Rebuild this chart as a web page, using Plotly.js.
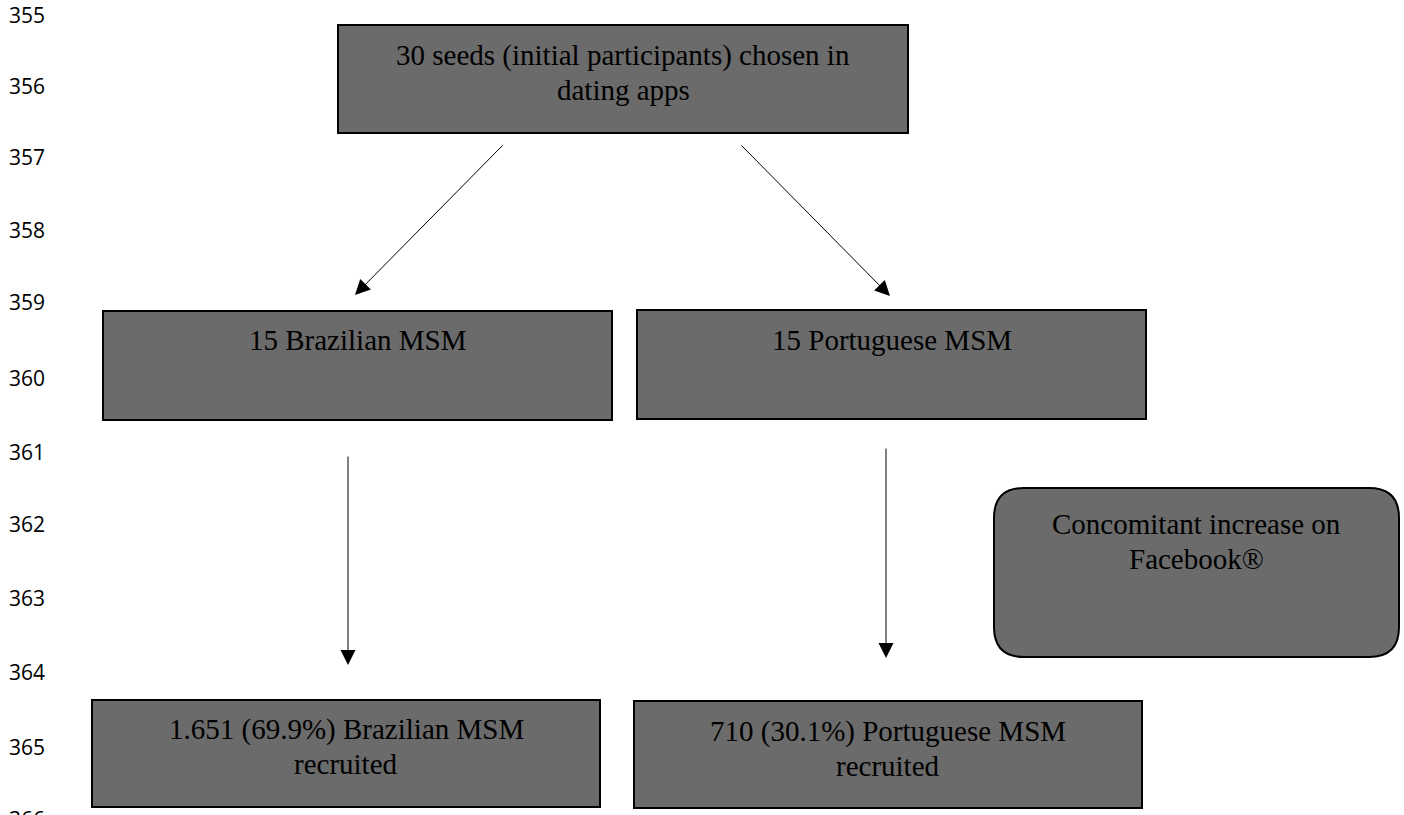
<!DOCTYPE html>
<html>
<head>
<meta charset="utf-8">
<script src="https://cdn.plot.ly/plotly-3.0.1.min.js"></script>
<style>html,body{margin:0;padding:0;background:#fff;}#chart{width:1404px;height:815px;}</style>
</head>
<body>
<div id="chart"></div>
<script>
// Line numbers shown in the left margin
const lineNumbers = ['355','356','357','358','359','360','361','362','363','364','365','366'];
const lineNumberY = [15, 86, 157, 230, 302, 378, 452, 524, 598, 672, 747, 819];

// Flowchart box texts (one entry per text line)
const boxLabels = [
  ['30 seeds (initial participants) chosen in', 'dating apps'],
  ['15 Brazilian MSM'],
  ['15 Portuguese MSM'],
  ['Concomitant increase on', 'Facebook®'],
  ['1.651 (69.9%) Brazilian MSM', 'recruited'],
  ['710 (30.1%) Portuguese MSM', 'recruited']
];

// Geometry (pixel-space layout)
const W = 1404, H = 815;
const boxes = [
  {x0:338, x1:908, y0:25, y1:133, ty:55},
  {x0:103, x1:612, y0:311, y1:420, ty:340},
  {x0:637, x1:1146, y0:310, y1:419, ty:340},
  {x0:994, x1:1399, y0:488, y1:657, ty:524, round:30},
  {x0:92, x1:600, y0:700, y1:807, ty:729},
  {x0:634, x1:1142, y0:701, y1:808, ty:731}
];
const LINE_GAP = 35;
const arrows = [
  {x0:504, y0:144, x1:355, y1:295},
  {x0:740, y0:144, x1:890, y1:296},
  {x0:348, y0:455, x1:348, y1:665},
  {x0:886, y0:447, x1:886, y1:658}
];

const FILL = '#6b6b6b';
const shapes = [];
const annotations = [];

boxes.forEach((b, i) => {
  if (b.round) {
    const r = b.round;
    const p = `M ${b.x0+r},${b.y0} L ${b.x1-r},${b.y0} Q ${b.x1},${b.y0} ${b.x1},${b.y0+r} ` +
      `L ${b.x1},${b.y1-r} Q ${b.x1},${b.y1} ${b.x1-r},${b.y1} L ${b.x0+r},${b.y1} ` +
      `Q ${b.x0},${b.y1} ${b.x0},${b.y1-r} L ${b.x0},${b.y0+r} Q ${b.x0},${b.y0} ${b.x0+r},${b.y0} Z`;
    shapes.push({type:'path', xref:'x', yref:'y', path:p, fillcolor:FILL, line:{color:'#000', width:2}, layer:'below'});
  } else {
    shapes.push({type:'rect', xref:'x', yref:'y', x0:b.x0, x1:b.x1, y0:b.y0, y1:b.y1,
      fillcolor:FILL, line:{color:'#000', width:2}, layer:'below'});
  }
  boxLabels[i].forEach((line, k) => {
    annotations.push({xref:'x', yref:'y', x:(b.x0+b.x1)/2, y:b.ty + k*LINE_GAP, text:line,
      showarrow:false, xanchor:'center', yanchor:'middle',
      font:{family:'Liberation Serif, Times New Roman, serif', size:29, color:'#000'}});
  });
});

arrows.forEach(a => {
  annotations.push({xref:'x', yref:'y', axref:'x', ayref:'y', x:a.x1, y:a.y1, ax:a.x0, ay:a.y0,
    text:'', showarrow:true, arrowhead:2, arrowsize:3, arrowwidth:1, arrowcolor:'#000', standoff:0});
});

lineNumbers.forEach((t, i) => {
  annotations.push({xref:'paper', yref:'paper', x:7 / W, y:1 - lineNumberY[i] / H, text:t, showarrow:false,
    xanchor:'left', yanchor:'middle', font:{family:'Open Sans, Lato, sans-serif', size:21, color:'#000'}});
});

const layout = {
  width:W, height:H,
  margin:{l:0, r:0, t:0, b:0},
  paper_bgcolor:'#fff', plot_bgcolor:'#fff',
  xaxis:{range:[0,W], visible:false, fixedrange:true},
  yaxis:{range:[H,0], visible:false, fixedrange:true},
  shapes:shapes, annotations:annotations, showlegend:false
};

Plotly.newPlot('chart', [{x:[], y:[], type:'scatter', mode:'markers', hoverinfo:'skip'}], layout, {staticPlot:true, displayModeBar:false});
</script>
</body>
</html>
